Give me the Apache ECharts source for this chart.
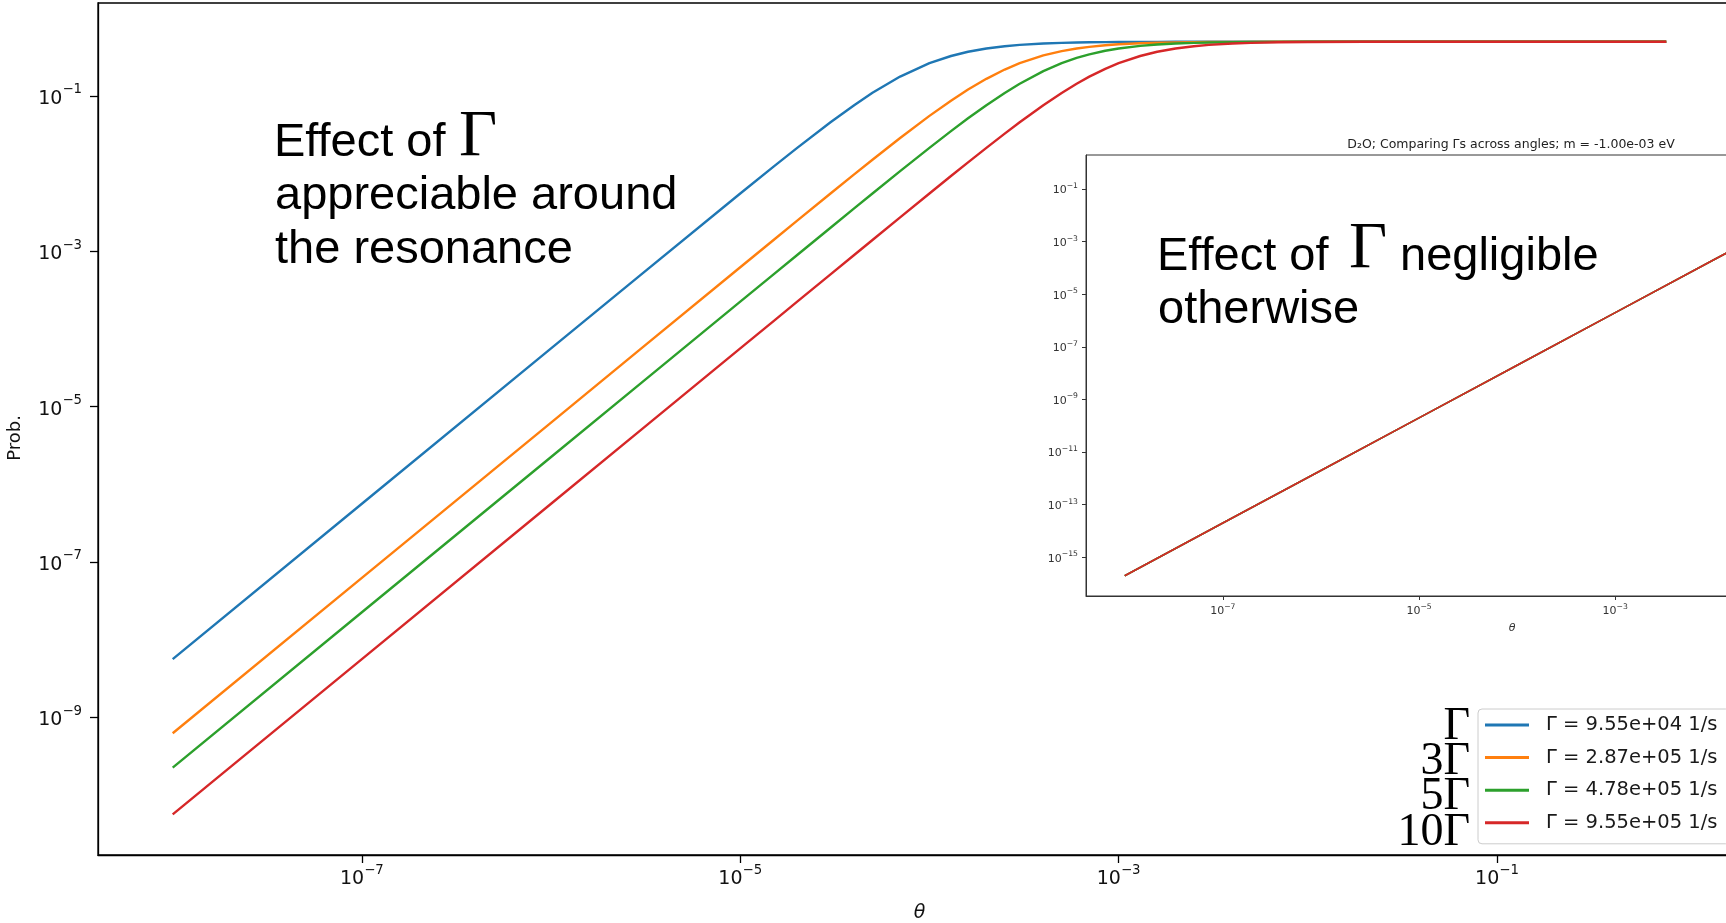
<!DOCTYPE html>
<html>
<head>
<meta charset="utf-8">
<script src="https://cdn.jsdelivr.net/npm/echarts@6/dist/echarts.min.js"></script>
<style>
  html, body { margin: 0; padding: 0; background: #fff; overflow: hidden; }
  /* the axes run past the right edge of the page, so the canvas is wider than the view */
  #chart { width: 1960px; height: 923px; }
</style>
</head>
<body>
<div id="chart"></div>
<script>
// Mixing angle samples (rad)
const theta = [1e-8, 1e-7, 1e-6, 3e-6, 1e-5, 1.5e-5, 2e-5, 3e-5, 4e-5, 5e-5, 7e-5, 1e-4,
               1.3e-4, 1.6e-4, 2e-4, 2.5e-4, 3e-4, 4e-4, 5e-4, 6e-4, 7e-4, 8.5e-4, 1e-3, 1.3e-3,
               1.6e-3, 2e-3, 2.5e-3, 3e-3, 4e-3, 5e-3, 7e-3, 1e-2, 2e-2, 5e-2, 1e-1, 0.785];

// Conversion probability for each decay width
const probGamma1  = [5.62e-9, 5.62e-7, 5.62e-5, 5.05e-4, 5.56e-3, 0.0123, 0.0215, 0.0459, 0.0762, 0.110, 0.178, 0.265,
                     0.3275, 0.371, 0.409, 0.4377, 0.455, 0.4737, 0.4828, 0.4879, 0.4911, 0.4939, 0.4956, 0.4974,
                     0.4983, 0.4989, 0.4993, 0.4995, 0.4997, 0.4998, 0.4999, 0.5, 0.5, 0.5, 0.5, 0.5];
const probGamma3  = [6.24e-10, 6.24e-8, 6.24e-6, 5.62e-5, 6.23e-4, 1.40e-3, 2.48e-3, 5.56e-3, 9.79e-3, 0.0151, 0.0288, 0.0555,
                     0.0871, 0.1211, 0.1665, 0.2191, 0.2646, 0.3332, 0.3787, 0.409, 0.4298, 0.4501, 0.4629, 0.4774,
                     0.4848, 0.4902, 0.4937, 0.4956, 0.4975, 0.4984, 0.4992, 0.4996, 0.4999, 0.5, 0.5, 0.5];
const probGamma5  = [2.25e-10, 2.25e-8, 2.25e-6, 2.02e-5, 2.25e-4, 5.05e-4, 8.97e-4, 2.01e-3, 3.57e-3, 5.56e-3, 0.0108, 0.0215,
                     0.0353, 0.0516, 0.0762, 0.1096, 0.144, 0.2092, 0.2646, 0.309, 0.3439, 0.3823, 0.409, 0.4418,
                     0.46, 0.4737, 0.4828, 0.4879, 0.4931, 0.4956, 0.4977, 0.4989, 0.4997, 0.4999, 0.5, 0.5];
const probGamma10 = [5.62e-11, 5.62e-9, 5.62e-7, 5.06e-6, 5.62e-5, 1.264e-4, 2.25e-4, 5.05e-4, 8.97e-4, 1.40e-3, 2.74e-3, 5.56e-3,
                     9.32e-3, 0.01398, 0.0215, 0.0328, 0.0459, 0.0762, 0.1096, 0.144, 0.1775, 0.224, 0.2646, 0.3275,
                     0.371, 0.409, 0.4377, 0.455, 0.4737, 0.4828, 0.4911, 0.4956, 0.4989, 0.4998, 0.5, 0.5];

// Off-resonance comparison (m = -1.00e-03 eV): all widths coincide
const thetaInset = [1e-8, 1e-7, 1e-6, 1e-5, 1e-4, 1e-3, 1e-2, 1e-1, 0.785];
const probInset  = [2.0e-16, 2.0e-14, 2.0e-12, 2.0e-10, 2.0e-8, 2.0e-6, 2.0e-4, 1.9e-2, 0.35];

const gammaLabels = ['Γ = 9.55e+04 1/s', 'Γ = 2.87e+05 1/s', 'Γ = 4.78e+05 1/s', 'Γ = 9.55e+05 1/s'];
const gammaMultiples = ['Γ', '3Γ', '5Γ', '10Γ'];
const colors = ['#1f77b4', '#ff7f0e', '#2ca02c', '#d62728'];

const xTicks = [1e-7, 1e-5, 1e-3, 1e-1];
const yTicksMain = [1e-9, 1e-7, 1e-5, 1e-3, 1e-1];
const yTicksInset = [1e-15, 1e-13, 1e-11, 1e-9, 1e-7, 1e-5, 1e-3, 1e-1];

const insetTitle = 'D₂O; Comparing Γs across angles; m = -1.00e-03 eV';

const pairs = (xs, ys) => xs.map((x, i) => [x, ys[i]]);
const mainSets = [probGamma1, probGamma3, probGamma5, probGamma10];

// Power-of-ten tick label with a raised exponent
function expLabel(v) {
  const e = Math.round(v > 0 ? Math.log10(v) : v);
  return '{b|10}{s|' + (e < 0 ? '\u2212' : '') + Math.abs(e) + '}';
}

const FONT = 'DejaVu Sans';
const mainRich = {
  b: { fontFamily: FONT, fontSize: 19, lineHeight: 25, verticalAlign: 'bottom', color: '#111' },
  s: { fontFamily: FONT, fontSize: 13.3, lineHeight: 14, verticalAlign: 'top', color: '#111' }
};
const insetRich = {
  b: { fontFamily: FONT, fontSize: 11, lineHeight: 14, verticalAlign: 'bottom', color: '#333' },
  s: { fontFamily: FONT, fontSize: 7.7, lineHeight: 8, verticalAlign: 'top', color: '#333' }
};

const mainAxisLine = { show: true, lineStyle: { color: '#000', width: 1.3 } };
const mainTick = { length: 8, lineStyle: { color: '#000', width: 1.3 } };
const insetAxisLine = { show: true, lineStyle: { color: '#333', width: 1 } };
const insetTick = { length: 4, lineStyle: { color: '#333', width: 1 } };

const series = [];
mainSets.forEach((vals, i) => {
  series.push({
    name: gammaLabels[i], type: 'line', xAxisIndex: 0, yAxisIndex: 0,
    data: pairs(theta, vals), showSymbol: false, symbol: 'none',
    color: colors[i], lineStyle: { color: colors[i], width: 2.4, join: 'round' }
  });
});
mainSets.forEach((vals, i) => {
  series.push({
    name: gammaLabels[i], type: 'line', xAxisIndex: 1, yAxisIndex: 1,
    data: pairs(thetaInset, probInset), showSymbol: false, symbol: 'none',
    color: colors[i], lineStyle: { color: colors[i], width: 1.6 }
  });
});

const graphic = [];
const ann = (x, y, text, size, family, align) => ({
  type: 'text', x, y, z: 100,
  style: { text, fontSize: size, fontFamily: family, fill: '#000',
           align: align || 'left', verticalAlign: 'middle' }
});
// Annotation over the main plot
graphic.push(ann(274, 143, 'Effect of', 47, 'Liberation Sans'));
graphic.push(ann(459, 138, 'Γ', 66, 'Liberation Serif'));
graphic.push(ann(275, 196.5, 'appreciable around', 47, 'Liberation Sans'));
graphic.push(ann(275, 250, 'the resonance', 47, 'Liberation Sans'));
// Annotation over the inset
graphic.push(ann(1157, 257, 'Effect of', 47, 'Liberation Sans'));
graphic.push(ann(1349, 250, 'Γ', 66, 'Liberation Serif'));
graphic.push(ann(1400, 257, 'negligible', 47, 'Liberation Sans'));
graphic.push(ann(1158, 310, 'otherwise', 47, 'Liberation Sans'));
// Width multiples beside the legend
const multBaselines = [742, 777, 812, 848];
gammaMultiples.forEach((t, i) => {
  graphic.push(ann(1470, multBaselines[i] - 15.5, t, 46, 'Liberation Serif', 'right'));
});
// Inset title
graphic.push({
  type: 'text', x: 1511, y: 145, z: 100,
  style: { text: insetTitle, fontSize: 12.5, fontFamily: FONT, fill: '#222',
           align: 'center', verticalAlign: 'middle' }
});
// Main y-axis title
graphic.push({
  type: 'text', x: 15, y: 438, rotation: Math.PI / 2, z: 100,
  style: { text: 'Prob.', fontSize: 18, fontFamily: FONT, fill: '#111',
           align: 'center', verticalAlign: 'middle' }
});

const option = {
  animation: false,
  backgroundColor: '#fff',
  grid: [
    { left: 98, top: 3, width: 1643, height: 852, show: true, outerBoundsMode: 'none',
      borderColor: '#000', borderWidth: 1.3, backgroundColor: 'transparent' },
    { left: 1086, top: 155, width: 852, height: 441, show: true, outerBoundsMode: 'none',
      borderColor: '#333', borderWidth: 1, backgroundColor: '#fff' }
  ],
  xAxis: [
    { gridIndex: 0, type: 'log', logBase: 10,
      min: Math.pow(10, -8.3948), max: Math.pow(10, 0.2898),
      axisLine: mainAxisLine,
      axisTick: Object.assign({ customValues: xTicks }, mainTick),
      axisLabel: { customValues: xTicks, formatter: expLabel, margin: 9, rich: mainRich },
      splitLine: { show: false }, minorTick: { show: false },
      name: 'θ', nameLocation: 'middle', nameGap: 49,
      nameTextStyle: { fontFamily: FONT, fontStyle: 'italic', fontSize: 19, color: '#111' } },
    { gridIndex: 1, type: 'log', logBase: 10,
      min: Math.pow(10, -8.3948), max: Math.pow(10, 0.2898),
      axisLine: insetAxisLine,
      axisTick: Object.assign({ customValues: xTicks }, insetTick),
      axisLabel: { customValues: xTicks, formatter: expLabel, margin: 7, rich: insetRich },
      splitLine: { show: false }, minorTick: { show: false },
      name: 'θ', nameLocation: 'middle', nameGap: 27,
      nameTextStyle: { fontFamily: FONT, fontStyle: 'italic', fontSize: 11, color: '#333' } }
  ],
  yAxis: [
    { gridIndex: 0, type: 'log', logBase: 10,
      min: Math.pow(10, -10.773), max: Math.pow(10, 0.1975),
      axisLine: mainAxisLine,
      axisTick: Object.assign({ customValues: yTicksMain }, mainTick),
      axisLabel: { customValues: yTicksMain, formatter: expLabel, margin: 16, rich: mainRich },
      splitLine: { show: false }, minorTick: { show: false } },
    { gridIndex: 1, type: 'log', logBase: 10,
      min: Math.pow(10, -16.471), max: Math.pow(10, 0.292),
      axisLine: insetAxisLine,
      axisTick: Object.assign({ customValues: yTicksInset }, insetTick),
      axisLabel: { customValues: yTicksInset, formatter: expLabel, margin: 8, rich: insetRich },
      splitLine: { show: false }, minorTick: { show: false } }
  ],
  legend: {
    data: gammaLabels,
    orient: 'vertical', left: 1478, top: 709,
    padding: [5, 12, 10, 7], itemGap: 10.6,
    itemWidth: 44, itemHeight: 3, icon: 'rect',
    backgroundColor: 'rgba(255,255,255,0.85)', borderColor: '#cccccc', borderWidth: 1, borderRadius: 4,
    textStyle: { fontFamily: FONT, fontSize: 19.5, lineHeight: 22, color: '#1a1a1a', padding: [0, 0, 0, 12] },
    selectedMode: false
  },
  graphic,
  series
};

const chart = echarts.init(document.getElementById('chart'), null, { renderer: 'canvas' });
chart.setOption(option);
</script>
</body>
</html>
